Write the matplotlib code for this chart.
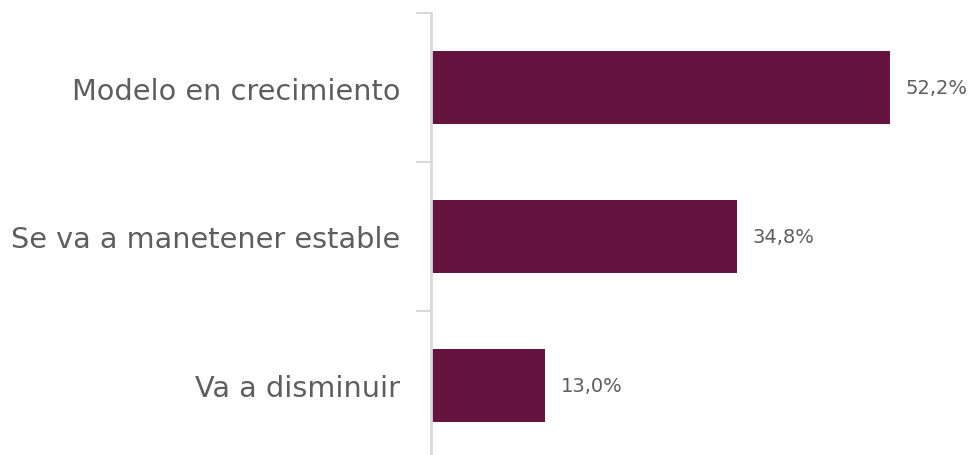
import matplotlib.pyplot as plt

categories = ["Modelo en crecimiento", "Se va a manetener estable", "Va a disminuir"]
values = [52.2, 34.8, 13.0]
value_labels = ["52,2%", "34,8%", "13,0%"]

BAR_COLOR = "#65133f"
AXIS_COLOR = "#d9d9d9"
TEXT_COLOR = "#5e5e5e"

plt.rcParams['font.family'] = ['DejaVu Sans']

fig = plt.figure(figsize=(9.75, 4.56), dpi=100)
# axis area runs slightly past the bottom edge of the figure
ax = fig.add_axes([431 / 975, -5 / 456, 544 / 975, 447 / 456])

pos = list(range(len(categories)))
ax.barh(pos, values, height=0.49, color=BAR_COLOR)
ax.set_ylim(len(categories) - 0.5, -0.5)
ax.set_xlim(0, 61.9)

for y, v, lab in zip(pos, values, value_labels):
    ax.text(v + 1.8, y, lab, va="center", ha="left", fontsize=14, color=TEXT_COLOR)

# category labels, with ticks drawn at the boundaries between bars
ax.set_yticks(pos)
ax.set_yticklabels(categories, fontsize=20.7, color=TEXT_COLOR)
ax.tick_params(axis="y", which="major", length=0, pad=22)
ax.set_yticks([-0.5, 0.5, 1.5, 2.5], minor=True)
ax.tick_params(axis="y", which="minor", length=11, width=1.5, color=AXIS_COLOR)

ax.set_xticks([])
for side in ["top", "right", "bottom"]:
    ax.spines[side].set_visible(False)
ax.spines["left"].set_color(AXIS_COLOR)
ax.spines["left"].set_linewidth(2)

fig.savefig("out.png", dpi=100)
